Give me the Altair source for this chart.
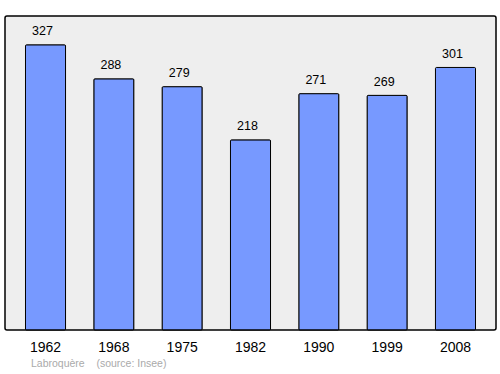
import altair as alt
import pandas as pd

years = ["1962", "1968", "1975", "1982", "1990", "1999", "2008"]
population = [327, 288, 279, 218, 271, 269, 301]
footer = "Labroquère\u00a0\u00a0\u00a0\u00a0(source: Insee)"

df = pd.DataFrame({"year": years, "pop": population})

x = alt.X("year:N", sort=years,
          scale=alt.Scale(paddingInner=0.414, paddingOuter=0.3),
          axis=alt.Axis(title=None, ticks=False, domain=False, labelAngle=0,
                        labelFontSize=14, labelPadding=10, labelColor="#000",
                        labelFont="Liberation Sans"))
y = alt.Y("pop:Q", scale=alt.Scale(domain=[0, 360], nice=False), axis=None)

bars = alt.Chart(df).mark_bar(fill="#7799ff", stroke="#000", strokeWidth=1,
                              cornerRadius=1).encode(x=x, y=y)
labels = alt.Chart(df).mark_text(dx=-3, dy=-13.5, fontSize=12.5, font="Liberation Sans",
                                 color="#000").encode(x=x, y=y, text="pop:Q")
foot = alt.Chart(pd.DataFrame({"t": [footer]})).mark_text(
    align="left", baseline="middle", fontSize=10.5, font="Liberation Sans", color="#aaaaaa"
).encode(x=alt.value(26), y=alt.value(348), text="t:N")

chart = (bars + labels + foot).properties(
    width=491, height=314,
    autosize=alt.AutoSizeParams(type="none"),
    padding={"left": 5, "top": 16, "right": 4, "bottom": 44},
    background="white",
).configure_view(fill="#eeeeee", stroke="#000", strokeWidth=1.5, cornerRadius=2)

chart.save("out.html", embed_options={"renderer": "svg", "actions": False})
